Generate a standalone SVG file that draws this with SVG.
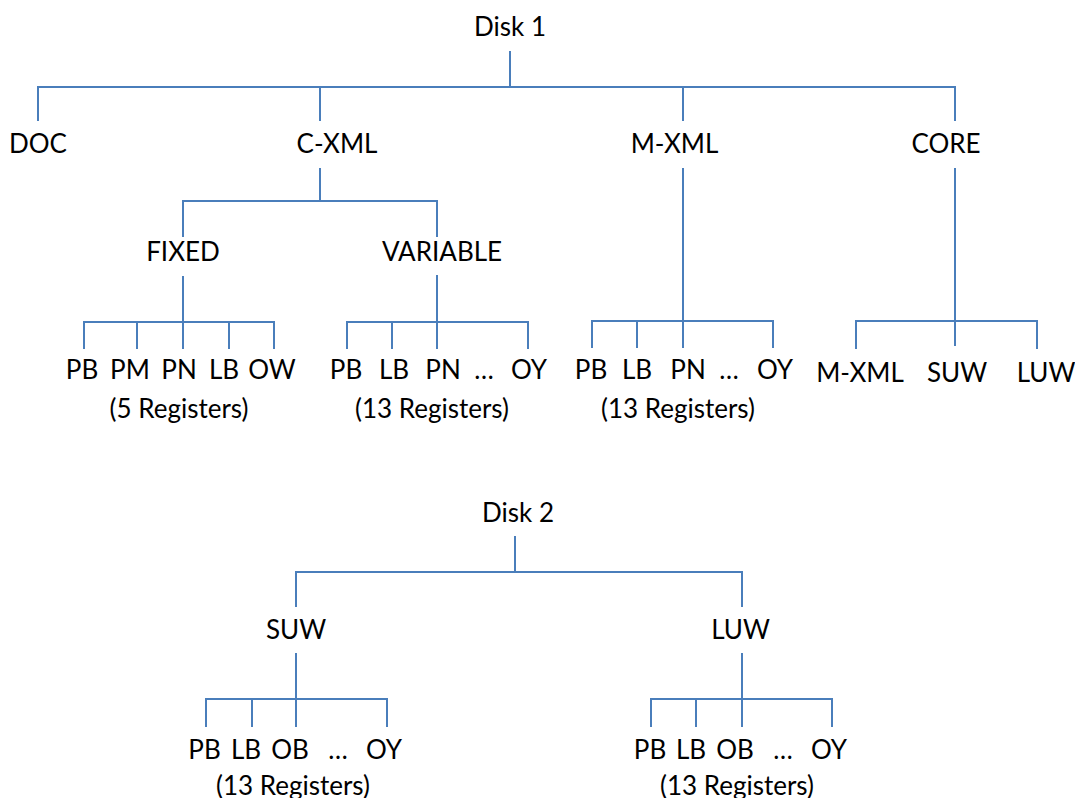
<svg xmlns="http://www.w3.org/2000/svg" width="1075" height="798" viewBox="0 0 1075 798">
<style>
.l{stroke:#4A7EBB;stroke-width:2;fill:none}
text{font-family:Lato,"Open Sans",sans-serif;font-size:26px;fill:#000;text-anchor:middle}
</style>
<rect width="1075" height="798" fill="#fff"/>
<g id="connectors" class="l">
<path d="M510,51V87M38,121V87H955V121M320,87V121M683,87V121"/>
<path d="M320,168V201M183,237V201H437V237"/>
<path d="M183,276V322M84,349V322H274V349M137,322V349M183,322V349M229,322V349"/>
<path d="M437,275V322M347,349V322H528V349M392,322V349M437,322V349"/>
<path d="M683,168V321M592,348V321H773V348M637,321V348M683,321V348"/>
<path d="M955,168V321M856,349V321H1037V349M955,321V346"/>
<path d="M515,536V572M296,607V572H742V607"/>
<path d="M296,653V699M206,727V699H387V727M252,699V727M296,699V727"/>
<path d="M742,653V699M651,727V699H832V727M696,699V727M742,699V727"/>
</g>
<g id="disk1"><text x="510" y="36">Disk 1</text></g>
<g id="doc"><text x="38" y="153">DOC</text></g>
<g id="cxml"><text x="337" y="153">C-XML</text></g>
<g id="mxml"><text x="674.5" y="153">M-XML</text></g>
<g id="core"><text x="946" y="153">CORE</text></g>
<g id="fixed"><text x="183" y="261">FIXED</text></g>
<g id="variable"><text x="442" y="261">VARIABLE</text></g>
<g id="fixed-leaves">
<text x="82" y="379">PB</text><text x="130" y="379">PM</text><text x="179" y="379">PN</text><text x="224" y="379">LB</text><text x="272" y="379">OW</text>
<text x="179" y="418">(5 Registers)</text>
</g>
<g id="variable-leaves">
<text x="346" y="379">PB</text><text x="394" y="379">LB</text><text x="443" y="379">PN</text><text x="484" y="379">…</text><text x="529" y="379">OY</text>
<text x="432" y="418">(13 Registers)</text>
</g>
<g id="mxml-leaves">
<text x="591" y="379">PB</text><text x="637" y="379">LB</text><text x="688" y="379">PN</text><text x="729" y="379">…</text><text x="775" y="379">OY</text>
<text x="678" y="418">(13 Registers)</text>
</g>
<g id="core-leaves">
<text x="860" y="382">M-XML</text><text x="957" y="382">SUW</text><text x="1046" y="382">LUW</text>
</g>
<g id="disk2"><text x="518" y="522">Disk 2</text></g>
<g id="suw"><text x="296" y="639">SUW</text></g>
<g id="luw"><text x="740.5" y="639">LUW</text></g>
<g id="suw-leaves">
<text x="204.5" y="759">PB</text><text x="246" y="759">LB</text><text x="290" y="759">OB</text><text x="338" y="759">…</text><text x="384" y="759">OY</text>
<text x="293" y="795">(13 Registers)</text>
</g>
<g id="luw-leaves">
<text x="650" y="759">PB</text><text x="691" y="759">LB</text><text x="735" y="759">OB</text><text x="783" y="759">…</text><text x="829" y="759">OY</text>
<text x="737" y="795">(13 Registers)</text>
</g>
</svg>
